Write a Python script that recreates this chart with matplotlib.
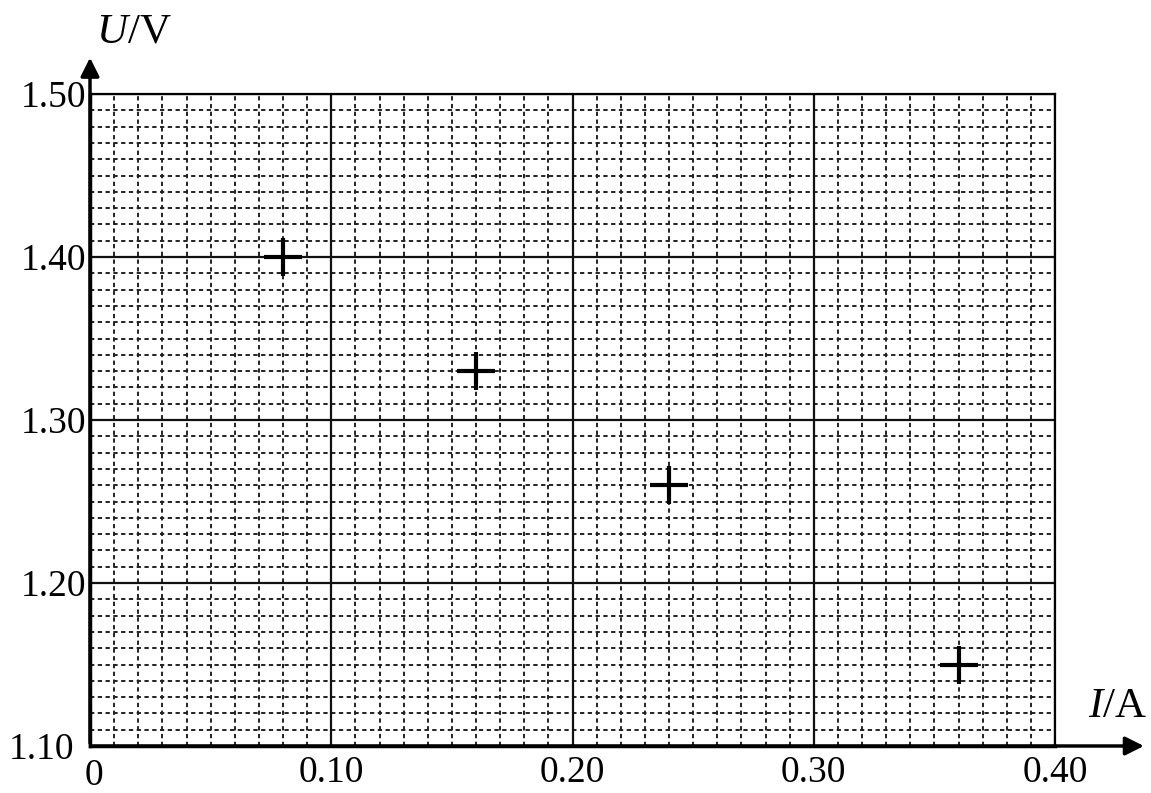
import matplotlib.pyplot as plt
import matplotlib.transforms as mtransforms
import numpy as np

# measured points (I in A, U in V)
current = [0.08, 0.16, 0.24, 0.36]
voltage = [1.40, 1.33, 1.26, 1.15]

x_ticks = [0, 0.10, 0.20, 0.30, 0.40]
x_labels = ["0", "0.10", "0.20", "0.30", "0.40"]
y_ticks = [1.10, 1.20, 1.30, 1.40, 1.50]
y_labels = ["1.10", "1.20", "1.30", "1.40", "1.50"]

plt.rcParams['font.family'] = ['Liberation Serif', 'DejaVu Serif']
plt.rcParams['mathtext.fontset'] = 'custom'
plt.rcParams['mathtext.rm'] = 'Liberation Serif'
plt.rcParams['mathtext.it'] = 'Liberation Serif:italic'

fig = plt.figure(figsize=(11.51, 7.93), dpi=100)
ax = fig.add_axes([90 / 1151, 1 - 746 / 793, 965 / 1151, 652 / 793])

ax.set_xlim(0, 0.40)
ax.set_ylim(1.10, 1.50)

# graph paper: minor dashed lines every 0.01, major solid every 0.1
for xv in np.arange(0.01, 0.40, 0.01):
    if abs(xv * 10 - round(xv * 10)) > 1e-6:
        ax.axvline(xv, color="#222222", lw=1.4, ls=(0, (2.2, 1.8)), zorder=1)
for yv in np.arange(1.11, 1.50, 0.01):
    if abs(yv * 10 - round(yv * 10)) > 1e-6:
        ax.axhline(yv, color="#222222", lw=1.4, ls=(0, (2.2, 1.8)), zorder=1)
for xv in x_ticks[1:]:
    ax.axvline(xv, color="#111111", lw=1.6, zorder=2)
for yv in y_ticks[1:]:
    ax.axhline(yv, color="#111111", lw=1.6, zorder=2)

ax.plot(current, voltage, ls="none", marker="+", ms=28, mew=3, color="black", zorder=4)

ax.set_xticks(x_ticks)
ax.set_xticklabels(x_labels)
ax.set_yticks(y_ticks)
ax.set_yticklabels(y_labels)
ax.tick_params(axis="y", length=0, labelsize=27, pad=3)
ax.tick_params(axis="x", length=0, labelsize=27, pad=7)

# nudge the corner labels apart, as on the paper
lab_110 = ax.get_yticklabels()[0]
lab_110.set_transform(lab_110.get_transform() +
                      mtransforms.ScaledTranslation(-0.12, 0, fig.dpi_scale_trans))
lab_0 = ax.get_xticklabels()[0]
lab_0.set_transform(lab_0.get_transform() +
                    mtransforms.ScaledTranslation(0.04, -0.03, fig.dpi_scale_trans))

for side in ["top", "right"]:
    ax.spines[side].set_linewidth(1.6)
    ax.spines[side].set_zorder(3)
for side in ["left", "bottom"]:
    ax.spines[side].set_linewidth(2.5)

# axis arrows
ax.annotate("", xy=(0, 1.06), xytext=(0, 0.0), xycoords="axes fraction",
            arrowprops=dict(arrowstyle="-|>", lw=2.5, color="black", mutation_scale=28))
ax.annotate("", xy=(1.095, 0), xytext=(0.0, 0), xycoords="axes fraction",
            arrowprops=dict(arrowstyle="-|>", lw=2.5, color="black", mutation_scale=28))

ax.text(0.006, 1.065, "$\\mathit{U}$/V", transform=ax.transAxes, fontsize=31,
        ha="left", va="bottom")
ax.text(1.095, 0.03, "$\\mathit{I}$/A", transform=ax.transAxes, fontsize=31,
        ha="right", va="bottom")

fig.savefig("out.png", dpi=100)
